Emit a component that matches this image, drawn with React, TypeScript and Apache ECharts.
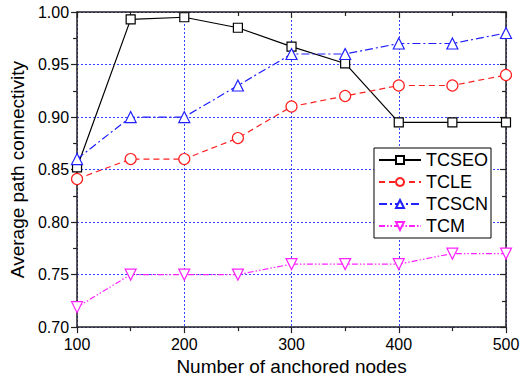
import React, { useEffect, useRef } from "react";
import * as echarts from "echarts";

const nodes = [100, 150, 200, 250, 300, 350, 400, 450, 500];
const tcseo = [0.852, 0.993, 0.995, 0.985, 0.967, 0.951, 0.895, 0.895, 0.895];
const tcle = [0.841, 0.86, 0.86, 0.88, 0.91, 0.92, 0.93, 0.93, 0.94];
const tcscn = [0.86, 0.9, 0.9, 0.93, 0.96, 0.96, 0.97, 0.97, 0.98];
const tcm = [0.719, 0.75, 0.75, 0.75, 0.76, 0.76, 0.76, 0.77, 0.77];
const seriesNames = ["TCSEO", "TCLE", "TCSCN", "TCM"];

const FONT = "Liberation Sans, Arial, sans-serif";

export default function App() {
  const ref = useRef<HTMLDivElement>(null);
  useEffect(() => {
    const chart = echarts.init(ref.current!, null, { renderer: "svg" });
    const mk = (vals: number[]) => nodes.map((n, i) => [n, vals[i]]);
    const gridLine = { show: true, lineStyle: { color: "#3344ff", type: [2, 2], width: 1 } };
    const axLine = { show: true, lineStyle: { color: "#222", width: 1.5 } };
    const tickStyle = { color: "#222", width: 1.2 };
    const series = [
      { name: seriesNames[0], data: mk(tcseo), color: "#000000", symbol: "rect", size: 9, type: "solid" as any },
      { name: seriesNames[1], data: mk(tcle), color: "#ff2020", symbol: "circle", size: 11, type: [6, 4] },
      { name: seriesNames[2], data: mk(tcscn), color: "#1f1fff", symbol: "triangle", size: 11, type: [8, 3, 2, 3] },
      { name: seriesNames[3], data: mk(tcm), color: "#ff22ff", symbol: "path://M0,0 L10,0 L5,9 Z", size: 11, type: [6, 2, 1.5, 2, 1.5, 2] },
    ].map((s) => ({
      name: s.name,
      type: "line",
      data: s.data,
      symbol: s.symbol,
      symbolSize: s.size,
      showAllSymbol: true,
      color: s.color,
      itemStyle: { color: "#fff", borderColor: s.color, borderWidth: 1.2 },
      lineStyle: { color: s.color, width: 1.2, type: s.type },
      z: 3,
    }));
    chart.setOption({
      animation: false,
      grid: { left: 74, right: 17, top: 12, bottom: 48 },
      legend: {
        orient: "vertical",
        right: 32,
        top: 148,
        data: seriesNames,
        itemWidth: 42,
        itemHeight: 10,
        itemGap: 4,
        padding: [3, 3, 3, 4],
        borderColor: "#000",
        borderWidth: 1,
        backgroundColor: "#fff",
        textStyle: { fontFamily: FONT, fontSize: 18, color: "#000", lineHeight: 18 },
      },
      xAxis: [
        {
          type: "value",
          min: 100,
          max: 500,
          interval: 100,
          name: "Number of anchored nodes",
          nameLocation: "middle",
          nameGap: 26,
          nameTextStyle: { fontFamily: FONT, fontSize: 19, color: "#000" },
          axisLine: axLine,
          axisTick: { show: true, inside: false, length: 6, lineStyle: tickStyle },
          minorTick: { show: true, splitNumber: 2, length: 4, lineStyle: tickStyle },
          axisLabel: { fontFamily: FONT, fontSize: 16, color: "#000", margin: 9 },
          splitLine: gridLine,
        },
        {
          type: "value",
          position: "top",
          min: 100,
          max: 500,
          interval: 100,
          axisLine: axLine,
          axisTick: { show: true, inside: true, length: 6, lineStyle: tickStyle },
          minorTick: { show: true, splitNumber: 2, length: 4, lineStyle: tickStyle },
          axisLabel: { show: false },
          splitLine: { show: false },
        },
      ],
      yAxis: [
        {
          type: "value",
          min: 0.7,
          max: 1.0,
          interval: 0.05,
          name: "Average path connectivity",
          nameLocation: "middle",
          nameGap: 42,
          nameTextStyle: { fontFamily: FONT, fontSize: 19, color: "#000" },
          axisLine: axLine,
          axisTick: { show: true, inside: false, length: 6, lineStyle: tickStyle },
          minorTick: { show: true, splitNumber: 2, length: 4, lineStyle: tickStyle },
          axisLabel: { fontFamily: FONT, fontSize: 16, color: "#000", margin: 8, formatter: (v: number) => v.toFixed(2) },
          splitLine: gridLine,
        },
        {
          type: "value",
          position: "right",
          min: 0.7,
          max: 1.0,
          interval: 0.05,
          axisLine: axLine,
          axisTick: { show: true, inside: true, length: 6, lineStyle: tickStyle },
          minorTick: { show: true, splitNumber: 2, length: 4, lineStyle: tickStyle },
          axisLabel: { show: false },
          splitLine: { show: false },
        },
      ],
      series,
    });
    return () => chart.dispose();
  }, []);
  return (
    <div
      ref={ref}
      style={{ position: "absolute", left: 0, top: 0, width: 523, height: 381, background: "#fff" }}
    />
  );
}
